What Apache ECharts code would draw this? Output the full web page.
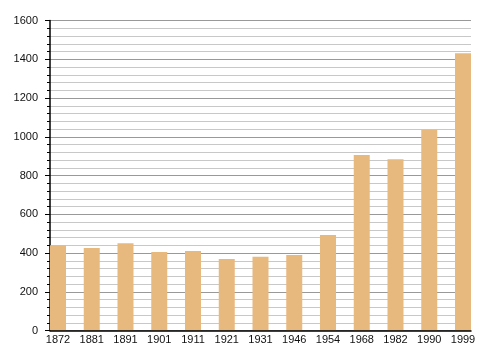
<!DOCTYPE html>
<html><head><meta charset="utf-8">
<script src="https://cdn.jsdelivr.net/npm/echarts@6/dist/echarts.min.js"></script>
<style>html,body{margin:0;padding:0;background:#fff}#c{width:480px;height:360px}</style>
</head><body><div id="c"></div>
<script>
const years = ['1872','1881','1891','1901','1911','1921','1931','1946','1954','1968','1982','1990','1999'];
const population = [440, 426, 450, 405, 410, 369, 381, 390, 493, 906, 884, 1036, 1431];
const yMin = 0, yMax = 1600, yStep = 200;

const font = 'Liberation Sans, Arial, sans-serif';
const chart = echarts.init(document.getElementById('c'), null, {renderer: 'canvas'});
chart.setOption({
  animation: false,
  backgroundColor: '#fff',
  grid: [
    {left: 50, right: 9, top: 20.5, bottom: 29.5},
    {left: 41.125, right: 0.125, top: 20.5, bottom: 29.5}
  ],
  xAxis: [
    {gridIndex: 0, type: 'value', min: 0, max: 1, z: 5,
      axisLine: {show: true, lineStyle: {color: '#000', width: 1.5}},
      axisTick: {show: false}, axisLabel: {show: false}, splitLine: {show: false}},
    {gridIndex: 1, type: 'category', data: years,
      axisLine: {show: false}, axisTick: {show: false},
      axisLabel: {color: '#111', fontFamily: font, fontSize: 11, margin: 4, interval: 0}}
  ],
  yAxis: [
    {gridIndex: 0, type: 'value', min: yMin, max: yMax, interval: yStep, z: 0,
      axisLine: {show: true, lineStyle: {color: '#000', width: 1.5}},
      axisTick: {show: true, inside: false, length: 5, lineStyle: {color: '#000'}},
      minorTick: {show: true, splitNumber: 5, length: 3, lineStyle: {color: '#000'}},
      axisLabel: {color: '#111', fontFamily: font, fontSize: 11, margin: 12,
        formatter: v => String(v)},
      splitLine: {show: true, lineStyle: {color: '#999', width: 1}},
      minorSplitLine: {show: true, lineStyle: {color: '#c8c8c8', width: 1}}},
    {gridIndex: 1, type: 'value', min: yMin, max: yMax, show: false}
  ],
  series: [{
    type: 'bar', xAxisIndex: 1, yAxisIndex: 1, z: 3,
    data: population, barWidth: 16,
    itemStyle: {color: '#e8b97e'}
  }]
});
</script></body></html>
